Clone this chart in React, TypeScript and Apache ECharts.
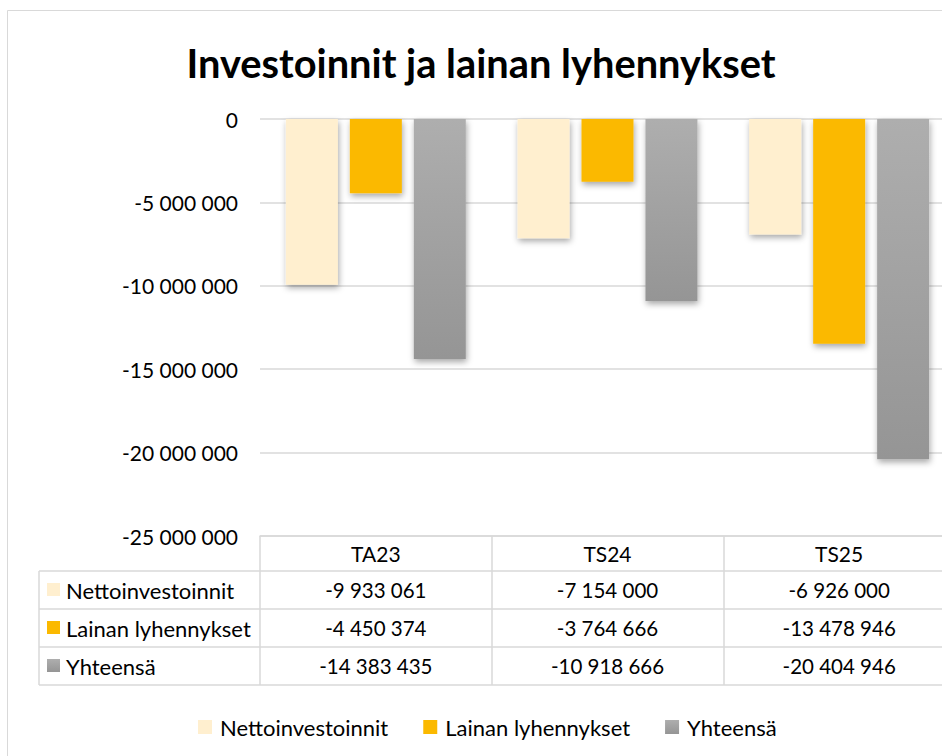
import React, { useEffect, useRef } from "react";
import * as echarts from "echarts";

const categories = ["TA23", "TS24", "TS25"];
const seriesNames = ["Nettoinvestoinnit", "Lainan lyhennykset", "Yhteensä"];
const nettoinvestoinnit = [-9933061, -7154000, -6926000];
const lainanLyhennykset = [-4450374, -3764666, -13478946];
const yhteensa = [-14383435, -10918666, -20404946];
const yMin = -25000000;
const yMax = 0;
const yInterval = 5000000;

const FONT = "Lato";
const GRID = "#d9d9d9";

const fmt = (v: number) => {
  const s = Math.abs(Math.round(v))
    .toString()
    .replace(/\B(?=(\d{3})+(?!\d))/g, " ");
  return (v < 0 ? "-" : "") + s;
};

const grayGradient = () =>
  new echarts.graphic.LinearGradient(0, 0, 0, 1, [
    { offset: 0, color: "#AEAEAE" },
    { offset: 1, color: "#959595" },
  ]);

const seriesColors = () => ["#FFEFCF", "#FBB900", grayGradient()];

export default function App() {
  const ref = useRef<HTMLDivElement>(null);
  useEffect(() => {
    if (!ref.current) return;
    const chart = echarts.init(ref.current, null, { renderer: "svg" });
    const colors = seriesColors();
    const values = [nettoinvestoinnit, lainanLyhennykset, yhteensa];
    const shadow = {
      shadowBlur: 6,
      shadowColor: "rgba(0,0,0,0.35)",
      shadowOffsetX: 1,
      shadowOffsetY: 3,
    };
    const option: any = {
      animation: false,
      backgroundColor: "#ffffff",
      textStyle: { fontFamily: FONT, color: "#000" },
      title: {
        text: "Investoinnit ja lainan lyhennykset",
        left: 476,
        top: 37,
        textAlign: "center",
        textStyle: { fontFamily: FONT, fontSize: 39.8, fontWeight: "bold", color: "#000" },
      },
      legend: {
        data: seriesNames,
        left: 198,
        top: 716,
        padding: 0,
        itemWidth: 14,
        itemHeight: 14,
        itemGap: 35,
        icon: "rect",
        textStyle: { fontFamily: FONT, fontSize: 22, color: "#000", padding: [0, 0, 0, 3] },
      },
      grid: {
        left: 260,
        top: 119,
        width: 695,
        height: 417,
        containLabel: false,
        outerBoundsMode: "none",
      },
      xAxis: {
        type: "category",
        data: categories,
        position: "bottom",
        axisLine: { show: true, onZero: false, lineStyle: { color: GRID, width: 1.5 } },
        axisTick: { show: true, alignWithLabel: false, length: 149, lineStyle: { color: GRID, width: 1.5 } },
        axisLabel: { fontFamily: FONT, fontSize: 21, color: "#000", margin: 7 },
      },
      yAxis: {
        type: "value",
        min: yMin,
        max: yMax,
        interval: yInterval,
        axisLine: { show: false },
        axisTick: { show: false },
        axisLabel: { fontFamily: FONT, fontSize: 21, color: "#000", margin: 22, formatter: (v: number) => fmt(v) },
        splitLine: { show: true, lineStyle: { color: GRID, width: 1.5 } },
      },
      series: seriesNames.map((name, i) => ({
        name,
        type: "bar",
        data: values[i],
        barWidth: 52,
        barGap: "23%",
        itemStyle: { color: colors[i], ...shadow },
        emphasis: { disabled: true },
      })),
    };
    chart.setOption(option);

    const centers = categories.map((c) => chart.convertToPixel({ xAxisIndex: 0 }, c) as number);
    const bottomY = chart.convertToPixel({ yAxisIndex: 0 }, yMin) as number;
    const headerH = 35;
    const rowH = 38;
    const tableLeft = 39;
    const tableRight = 960;
    const rowTop = (i: number) => bottomY + headerH + i * rowH;
    const elements: any[] = [];
    elements.push({
      type: "rect",
      shape: { x: 7.5, y: 10.5, width: 1000, height: 800 },
      style: { fill: "none", stroke: GRID, lineWidth: 1 },
      silent: true,
      z: -10,
    });
    for (let i = 0; i <= 3; i++) {
      elements.push({
        type: "line",
        shape: { x1: tableLeft, y1: rowTop(i), x2: tableRight, y2: rowTop(i) },
        style: { stroke: GRID, lineWidth: 1.5 },
        silent: true,
      });
    }
    elements.push({
      type: "line",
      shape: { x1: tableLeft, y1: rowTop(0), x2: tableLeft, y2: rowTop(3) },
      style: { stroke: GRID, lineWidth: 1.5 },
      silent: true,
    });
    const keyColors = seriesColors();
    seriesNames.forEach((name, r) => {
      const cy = rowTop(r) + rowH / 2;
      elements.push({
        type: "rect",
        shape: { x: 47, y: cy - 7, width: 13, height: 13 },
        style: { fill: keyColors[r] },
        silent: true,
      });
      elements.push({
        type: "text",
        x: 66,
        y: cy,
        style: { text: name, font: `22px ${FONT}`, fill: "#000", verticalAlign: "middle", align: "left" },
        silent: true,
      });
      values[r].forEach((v, c) => {
        elements.push({
          type: "text",
          x: centers[c],
          y: cy,
          style: { text: fmt(v), font: `20.5px ${FONT}`, fill: "#000", verticalAlign: "middle", align: "center" },
          silent: true,
        });
      });
    });
    chart.setOption({ graphic: { elements } });
    return () => chart.dispose();
  }, []);
  return (
    <div
      ref={ref}
      style={{ position: "fixed", left: 0, top: 0, width: 942, height: 756, background: "#fff" }}
    />
  );
}
